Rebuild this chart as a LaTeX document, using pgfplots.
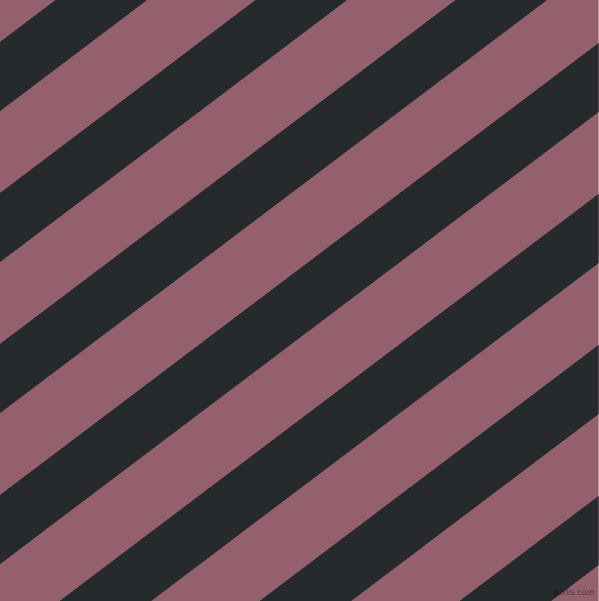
\documentclass[border=0pt]{standalone}
\usepackage{pgfplots}
\pgfplotsset{compat=1.18}
\definecolor{mauve}{HTML}{94606E}
\definecolor{gunmetal}{HTML}{262A2D}
\begin{document}
\begin{tikzpicture}
\begin{axis}[
  scale only axis, width=599pt, height=602pt,
  xmin=-0.5, xmax=598.5, ymin=-0.5, ymax=601.5, y dir=reverse,
  hide axis, clip=true,
]
\addplot[draw=none, fill=mauve] coordinates {(-5,-5) (603,-5) (603,606) (-5,606)} -- cycle;
\addplot[draw=none, fill=gunmetal] coordinates {(-5,45.8) (603,-413.3) (603,-344.3) (-5,114.8)} -- cycle;
\addplot[draw=none, fill=gunmetal] coordinates {(-5,196.8) (603,-262.3) (603,-193.3) (-5,265.8)} -- cycle;
\addplot[draw=none, fill=gunmetal] coordinates {(-5,347.8) (603,-111.3) (603,-42.3) (-5,416.8)} -- cycle;
\addplot[draw=none, fill=gunmetal] coordinates {(-5,498.8) (603,39.7) (603,108.7) (-5,567.8)} -- cycle;
\addplot[draw=none, fill=gunmetal] coordinates {(-5,649.8) (603,190.7) (603,259.7) (-5,718.8)} -- cycle;
\addplot[draw=none, fill=gunmetal] coordinates {(-5,800.8) (603,341.7) (603,410.7) (-5,869.8)} -- cycle;
\addplot[draw=none, fill=gunmetal] coordinates {(-5,951.8) (603,492.7) (603,561.7) (-5,1020.8)} -- cycle;
\node[font=\sffamily\fontsize{10}{10}\selectfont, text=black, opacity=0.45, anchor=south east, inner sep=1pt] at (axis cs:596,599) {pixlis.com};
\end{axis}
\pgfresetboundingbox
\path ([shift={(0.5pt,0.5pt)}]current axis.south west) rectangle ([shift={(-0.5pt,-0.5pt)}]current axis.north east);
\end{tikzpicture}
\end{document}
